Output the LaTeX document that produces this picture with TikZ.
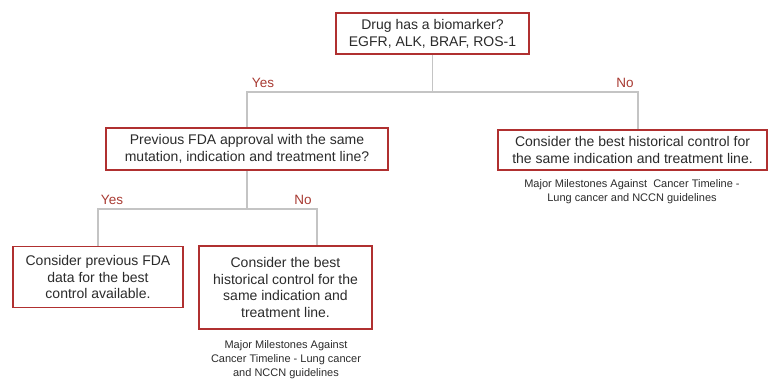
\documentclass[tikz,border=0pt]{standalone}
\usepackage{fontspec}
\setmainfont{Liberation Sans}
\definecolor{boxred}{HTML}{B03030}
\definecolor{lblred}{HTML}{A83A32}
\definecolor{linegray}{HTML}{C4C4C4}
\definecolor{txt}{HTML}{2B2B2B}
\tikzset{
  qbox/.style={draw=boxred, line width=1.6pt, fill=white, align=center, text=txt,
    font=\fontsize{14}{16.8}\selectfont, inner sep=0pt},
  conn/.style={draw=linegray, line width=1.6pt},
  lbl/.style={text=lblred, font=\fontsize{13.5}{15}\selectfont, inner sep=0pt},
  capt/.style={align=center, text=txt, font=\fontsize{11}{14}\selectfont, inner sep=0pt}
}
\begin{document}
\begin{tikzpicture}[x=1pt,y=-1pt]
\useasboundingbox (0,0) rectangle (768,379);
\node[qbox, minimum width=193pt, minimum height=41pt] (b1) at (432.5,33.5)
  {Drug has a biomarker?\\EGFR, ALK, BRAF, ROS-1};
\node[qbox, minimum width=282pt, minimum height=42pt] (b2) at (247,149)
  {Previous FDA approval with the same\\mutation, indication and treatment line?};
\node[qbox, minimum width=269pt, minimum height=40pt] (b3) at (632.5,150)
  {Consider the best historical control for\\the same indication and treatment line.};
\node[qbox, minimum width=170pt, minimum height=61pt] (b4) at (98,277)
  {Consider previous FDA\\data for the best\\control available.};
\node[qbox, minimum width=173pt, minimum height=83pt] (b5) at (285.5,287.5)
  {Consider the best\\historical control for the\\same indication and\\treatment line.};
\coordinate (j1) at (432.5,92);
\coordinate (r1) at (638,92);
\coordinate (j2) at (247,209);
\coordinate (r2) at (317,209);
\draw[conn] (b1.south) -- (j1);
\draw[conn] (j1) -| (b2.north);
\draw[conn] (j1) -- (r1) -- (r1 |- b3.north);
\draw[conn] (b2.south) -- (j2);
\draw[conn] (j2) -| (b4.north);
\draw[conn] (j2) -- (r2) -- (r2 |- b5.north);
\node[lbl] (y1) at (263,83) {Yes};
\node[lbl] (n1) at (625,83) {No};
\node[lbl] (y2) at (112,200) {Yes};
\node[lbl] (n2) at (303,200) {No};
\node[capt, anchor=north] (c3) at (632,179) {Major Milestones Against\ \ Cancer Timeline -\\Lung cancer and NCCN guidelines};
\node[capt, anchor=north] (c5) at (286,340) {Major Milestones Against\\Cancer Timeline - Lung cancer\\and NCCN guidelines};
\end{tikzpicture}
\end{document}
